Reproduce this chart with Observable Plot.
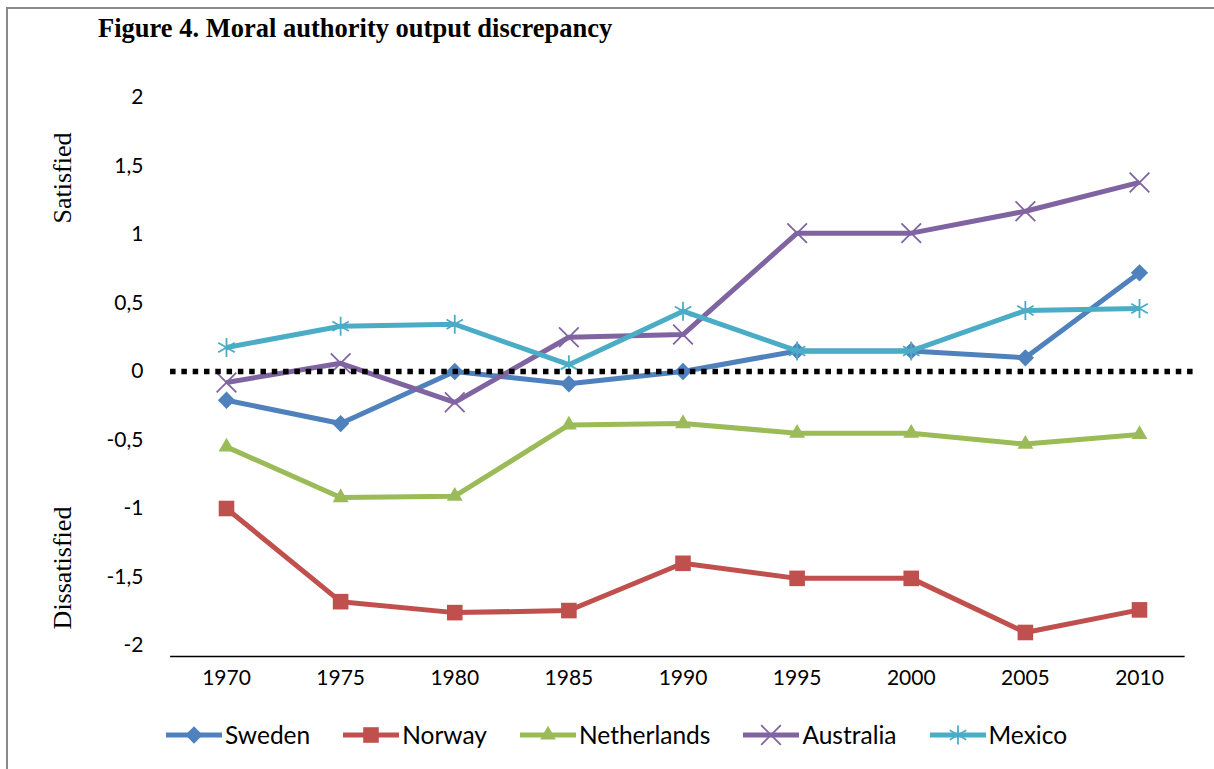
<!DOCTYPE html>
<html>
<head>
<meta charset="utf-8">
<script src="https://cdn.jsdelivr.net/npm/d3@7"></script>
<script src="https://cdn.jsdelivr.net/npm/@observablehq/plot@0.6"></script>
<style>
  html, body { margin: 0; padding: 0; background: #fff; }
  #wrap { position: relative; width: 1214px; height: 769px; overflow: hidden; background: #fff; }
  #border { position: absolute; left: 6px; top: 7px; width: 1220px; height: 780px; border: 2px solid #8a8a8a; box-sizing: border-box; }
  #title { position: absolute; left: 98px; top: 15px; font-family: "Liberation Serif", "Times New Roman", serif; font-weight: bold; font-size: 26.5px; line-height: 26px; color: #000; white-space: nowrap; }
  .side { position: absolute; font-family: "Liberation Serif", "Times New Roman", serif; font-size: 26px; color: #000; white-space: nowrap; transform: translate(-50%, -50%) rotate(-90deg); }
  #chart { position: absolute; left: 0; top: 0; }
  #legend { position: absolute; left: 166px; top: 720px; display: flex; gap: 33px; align-items: center; font-family: Lato, "Open Sans", sans-serif; font-size: 24.5px; color: #000; }
  .item { display: flex; align-items: center; }
  .item svg { display: block; margin-right: 3px; }
</style>
</head>
<body>
<div id="wrap">
  <div id="border"></div>
  <div id="title">Figure 4. Moral authority output discrepancy</div>
  <div class="side" style="left:63px; top:178px;">Satisfied</div>
  <div class="side" style="left:63px; top:568px;">Dissatisfied</div>
  <div id="chart"></div>
  <div id="legend"></div>
</div>
<script>
// ---- data ----
const years = [1970, 1975, 1980, 1985, 1990, 1995, 2000, 2005, 2010];
const countries = ["Sweden", "Norway", "Netherlands", "Australia", "Mexico"];
const sweden      = [-0.21, -0.38,  0.00, -0.09,  0.00,  0.15,  0.15,  0.10,  0.72];
const norway      = [-1.00, -1.68, -1.76, -1.745, -1.40, -1.51, -1.51, -1.905, -1.74];
const netherlands = [-0.55, -0.92, -0.91, -0.39, -0.38, -0.45, -0.45, -0.53, -0.46];
const australia   = [-0.08,  0.06, -0.225, 0.25,  0.27,  1.01,  1.01,  1.17,  1.38];
const mexico      = [ 0.175, 0.33,  0.345, 0.05,  0.44,  0.15,  0.15,  0.445, 0.46];
const yTicks = [-2, -1.5, -1, -0.5, 0, 0.5, 1, 1.5, 2];

// ---- styling ----
const colors  = ["#4F81BD", "#C0504D", "#9BBB59", "#8064A2", "#4BACC6"];
const symbols = ["diamond2", "square", "triangle2", "times", "asterisk"];
const filled  = [true, true, true, false, false];
const radii   = [7.8, 8.8, 7.6, 9, 9];
const seriesValues = [sweden, norway, netherlands, australia, mexico];

// axis line / reference line extents (in data units)
const axisLineY = -2.08;
const axisX1 = 1967.55, axisX2 = 2012.0;
const refX1 = 1967.55, refX2 = 2012.45;

const marks = [];
seriesValues.forEach((vals, i) => {
  const data = years.map((yr, j) => ({year: yr, value: vals[j]}));
  marks.push(Plot.line(data, {x: "year", y: "value", stroke: colors[i], strokeWidth: 5, strokeLinejoin: "round", strokeLinecap: "butt"}));
  marks.push(Plot.dot(data, filled[i]
    ? {x: "year", y: "value", symbol: () => symbols[i], r: radii[i], fill: colors[i], stroke: "none"}
    : {x: "year", y: "value", symbol: () => symbols[i], r: radii[i], fill: "none", stroke: colors[i], strokeWidth: 1.8}));
});

const chart = Plot.plot({
  width: 1214,
  height: 700,
  marginLeft: 226,
  marginRight: 75,
  marginTop: 97,
  marginBottom: 55,
  style: {fontFamily: "Lato, 'Open Sans', sans-serif", fontSize: "21px", color: "#000", background: "transparent", overflow: "visible"},
  x: {type: "linear", domain: [1970, 2010], axis: null},
  y: {domain: [-2, 2], axis: null},
  symbol: {type: "identity"},
  marks: [
    Plot.ruleY([axisLineY], {x1: axisX1, x2: axisX2, stroke: "#000", strokeWidth: 1.5}),
    Plot.axisY(yTicks, {tickSize: 0, tickPadding: 83, tickFormat: d => String(d).replace(".", ","), fontSize: 21, fill: "#000", label: null}),
    Plot.axisX(years, {anchor: "bottom", tickSize: 0, tickPadding: 25, tickFormat: d => String(d), fontSize: 21, fill: "#000", label: null}),
    ...marks,
    Plot.ruleY([0], {x1: refX1, x2: refX2, stroke: "#000", strokeWidth: 5.5, strokeDasharray: "5.5,5.8"})
  ]
});
document.getElementById("chart").appendChild(chart);

// ---- legend ----
const legend = d3.select("#legend");
const symMap = {diamond2: d3.symbolDiamond2, square: d3.symbolSquare, triangle2: d3.symbolTriangle2, times: d3.symbolTimes, asterisk: d3.symbolAsterisk};
countries.forEach((name, i) => {
  const item = legend.append("div").attr("class", "item");
  const svg = item.append("svg").attr("width", 56).attr("height", 24);
  svg.append("line").attr("x1", 0).attr("x2", 56).attr("y1", 12).attr("y2", 12)
    .attr("stroke", colors[i]).attr("stroke-width", 5);
  const path = d3.symbol(symMap[symbols[i]], Math.PI * radii[i] * radii[i])();
  const p = svg.append("path").attr("d", path).attr("transform", "translate(28,12)");
  if (filled[i]) p.attr("fill", colors[i]);
  else p.attr("fill", "none").attr("stroke", colors[i]).attr("stroke-width", 1.8);
  item.append("span").text(name);
});
</script>
</body>
</html>
